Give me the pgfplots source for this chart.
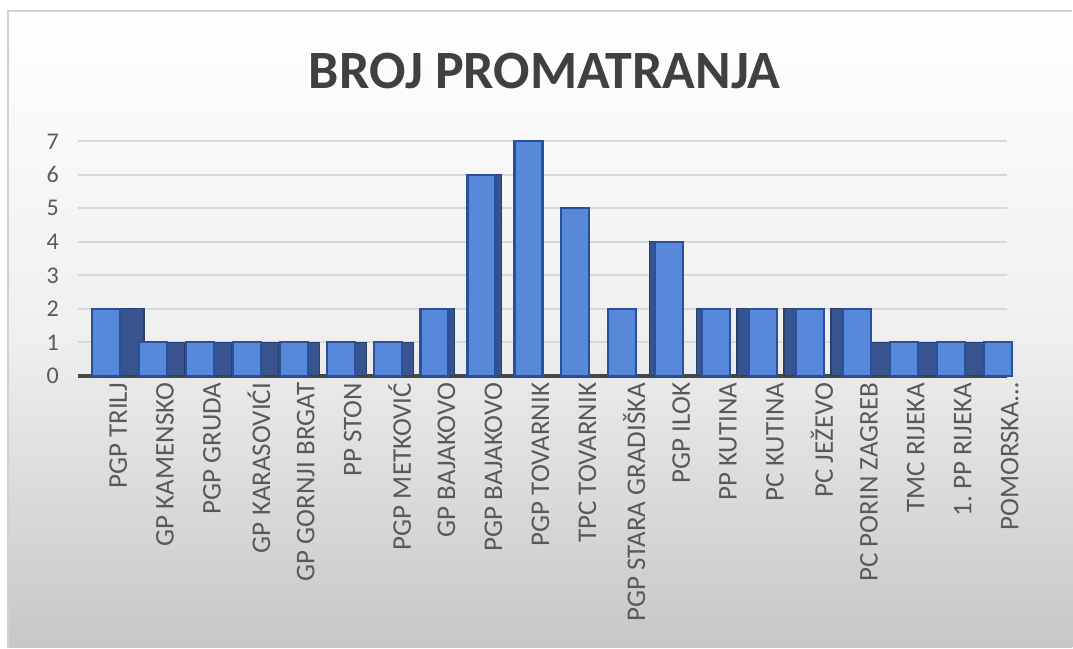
\documentclass[border=0pt]{standalone}
\usepackage{pgfplots}
\pgfplotsset{compat=1.18}
\usepackage{pgfplotstable}
\usepackage{fontspec}
\setmainfont{Carlito}
\definecolor{barfront}{RGB}{88,136,218}
\definecolor{baredge}{RGB}{42,80,156}
\definecolor{barside}{RGB}{56,84,144}
\definecolor{gridc}{RGB}{216,216,216}
\definecolor{txt}{RGB}{89,89,89}
\definecolor{titlec}{RGB}{64,64,64}

\pgfplotstableread{
x y
0 2
1 1
2 1
3 1
4 1
5 1
6 1
7 2
8 6
9 7
10 5
11 2
12 4
13 2
14 2
15 2
16 2
17 1
18 1
19 1
}\data

\begin{document}
\begin{tikzpicture}[x=0.5pt,y=0.5pt]
\fill[white] (0,0) rectangle (1073,648);
\shade[top color=white, bottom color=black!22, middle color=black!6] (8,0) rectangle (1073,637);
\draw[black!18, line width=0.6pt] (8,0) -- (8,637) -- (1073,637);
\node[font=\bfseries\fontsize{27}{27}\selectfont, text=titlec] at (545,577) {BROJ PROMATRANJA};
\begin{axis}[
  at={(39pt,136pt)}, anchor=south west,
  scale only axis, width=464.8pt, height=122.3pt,
  xmin=-0.6, xmax=19.2, ymin=0, ymax=7.3,
  axis x line=bottom, axis y line=left,
  x axis line style={-, line width=2.2pt, draw=black!72},
  y axis line style={draw=none},
  ytick={0,...,7},
  ymajorgrids, major grid style={gridc, line width=0.9pt},
  major tick length=0pt,
  /pgf/number format/assume math mode=true,
  yticklabel style={font=\fontsize{12}{12}\selectfont, text=txt, xshift=-6pt},
  xtick={0,...,19},
  xticklabels={PGP TRILJ, GP KAMENSKO, PGP GRUDA, GP KARASOVIĆI, GP GORNJI BRGAT, PP STON, PGP METKOVIĆ, GP BAJAKOVO, PGP BAJAKOVO, PGP TOVARNIK, TPC TOVARNIK, PGP STARA GRADIŠKA, PGP ILOK, PP KUTINA, PC KUTINA, PC JEŽEVO, PC PORIN ZAGREB, TMC RIJEKA, 1.\ PP RIJEKA, POMORSKA…},
  xticklabel style={rotate=90, anchor=east, font=\fontsize{13.5}{13.5}\selectfont, text=txt, yshift=-6pt},
  clip=false,
  side/.style={ybar, bar width=14pt, fill=barside, draw=barside!75!black, line width=0.6pt},
]
% darker side faces (3D look), same data
\addplot[side, bar shift=12pt, x filter/.expression={x<0.5 ? x : nan}] table[x=x,y=y] {\data};
\addplot[side, bar shift=9pt, x filter/.expression={(x>0.5 && x<3.5) ? x : nan}] table[x=x,y=y] {\data};
\addplot[side, bar shift=6pt, x filter/.expression={(x>3.5 && x<6.5) ? x : nan}] table[x=x,y=y] {\data};
\addplot[side, bar shift=3pt, x filter/.expression={(x>6.5 && x<8.5) ? x : nan}] table[x=x,y=y] {\data};
\addplot[side, bar shift=-3pt, x filter/.expression={(x>11.5 && x<13.5) ? x : nan}] table[x=x,y=y] {\data};
\addplot[side, bar shift=-6pt, x filter/.expression={(x>13.5 && x<16.5) ? x : nan}] table[x=x,y=y] {\data};
\addplot[side, bar shift=-9pt, x filter/.expression={x>16.5 ? x : nan}] table[x=x,y=y] {\data};
% front faces
\addplot[ybar, bar width=14pt, bar shift=0pt, fill=barfront, draw=baredge, line width=1.1pt] table[x=x,y=y] {\data};
\end{axis}
\end{tikzpicture}
\end{document}
